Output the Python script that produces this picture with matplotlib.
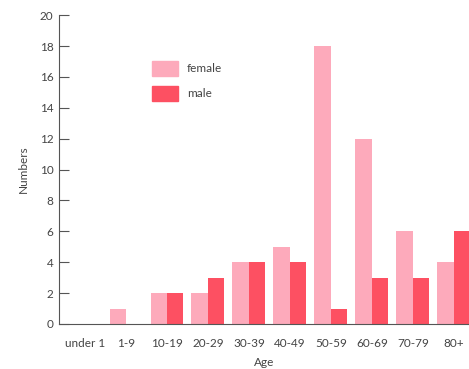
import matplotlib
matplotlib.use("Agg")
import matplotlib.pyplot as plt
import numpy as np
from matplotlib.patches import Patch

plt.rcParams["font.family"] = ["Lato", "DejaVu Sans"]

# data
ages = ["under 1", "1-9", "10-19", "20-29", "30-39", "40-49", "50-59", "60-69", "70-79", "80+"]
female = [0, 1, 2, 2, 4, 5, 18, 12, 6, 4]
male = [0, 0, 2, 3, 4, 4, 1, 3, 3, 6]

c_female = "#fdaabb"
c_male = "#fd5062"
grey = "#555555"

fig = plt.figure(figsize=(4.69, 3.69), dpi=100)
ax = fig.add_axes([0.126, 0.122, 0.874, 0.837])

x = np.arange(len(ages))
w = 0.4
ax.bar(x - w / 2, female, w, color=c_female, label="female")
ax.bar(x + w / 2, male, w, color=c_male, label="male")

ax.set_xlim(-0.63, 9.37)
ax.set_ylim(0, 20)
ax.set_yticks(range(0, 21, 2))
ax.set_xticks(x)
ax.set_xticklabels(ages)

for s in ["top", "right"]:
    ax.spines[s].set_visible(False)
for s in ["left", "bottom"]:
    ax.spines[s].set_color(grey)
    ax.spines[s].set_linewidth(0.8)

ax.tick_params(axis="y", direction="in", length=7, width=0.8, color=grey,
               labelsize=8.5, labelcolor="#444444", pad=4)
ax.tick_params(axis="x", length=0, labelsize=8.5, labelcolor="#444444", pad=10)

ax.set_ylabel("Numbers", fontsize=8.5, color="#444444", labelpad=8)
ax.set_xlabel("Age", fontsize=8.5, color="#444444", labelpad=6)

handles = [Patch(color=c_female, label="female"), Patch(color=c_male, label="male")]
ax.legend(handles=handles, loc="upper left", bbox_to_anchor=(0.2, 0.885),
          frameon=False, fontsize=8.5, handlelength=2.2, handleheight=1.5,
          labelspacing=0.9, handletextpad=0.8, labelcolor="#444444")

fig.savefig("out.png", dpi=100)
